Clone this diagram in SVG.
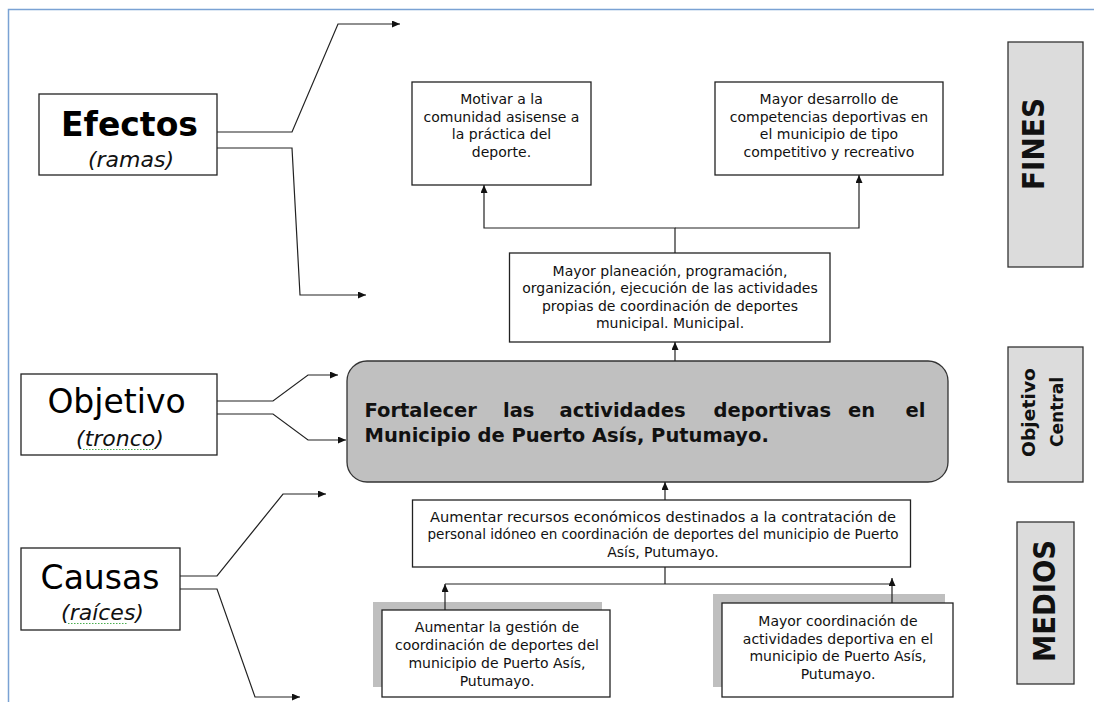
<svg xmlns="http://www.w3.org/2000/svg" width="1094" height="702" viewBox="0 0 1094 702">
<defs>
<marker id="ah" markerWidth="9" markerHeight="8" refX="8" refY="3.5" orient="auto" markerUnits="userSpaceOnUse">
<path d="M0,0 L8,3.5 L0,7 z" fill="#111"/>
</marker>
<style>
.box{fill:#fff;stroke:#222;stroke-width:1.3}
.sh{fill:#bfbfbf}
.lbl{fill:#dcdcdc;stroke:#333;stroke-width:1.3}
.t{font-family:"DejaVu Sans",Verdana,sans-serif;font-size:14px;fill:#111;text-anchor:middle}
.big{font-family:"DejaVu Sans",Verdana,sans-serif;font-size:33px;fill:#000;text-anchor:middle}
.it{font-family:"DejaVu Sans",Verdana,sans-serif;font-size:22px;font-style:italic;fill:#111;text-anchor:middle}
.rot{font-family:"DejaVu Sans",Verdana,sans-serif;font-weight:bold;fill:#111;text-anchor:middle}
.cen{font-family:"DejaVu Sans",Verdana,sans-serif;font-size:19.5px;font-weight:bold;fill:#111}
.c{fill:none;stroke:#222;stroke-width:1.2}
.ca{fill:none;stroke:#222;stroke-width:1.2;marker-end:url(#ah)}
.sp{stroke:#4caf50;stroke-width:1.2;stroke-dasharray:1.5 1.5}
</style>
</defs>
<rect width="1094" height="702" fill="#fff"/>
<path d="M8.5,702 V9.5 H1094" fill="none" stroke="#7aa2d4" stroke-width="1.5"/>

<g id="efectos">
<rect class="box" x="39" y="94" width="178" height="81"/>
<text class="big" x="129.5" y="136" font-weight="bold">Efectos</text>
<text class="it" x="131" y="167">(ramas)</text>
</g>
<g id="objetivo">
<rect class="box" x="21" y="374" width="196" height="81"/>
<text class="big" x="116.5" y="413">Objetivo</text>
<text class="it" x="120" y="446">(tronco)</text>
<line class="sp" x1="83" y1="449.5" x2="154" y2="449.5"/>
</g>
<g id="causas">
<rect class="box" x="21" y="548" width="159" height="82"/>
<text class="big" x="100" y="589" font-size="32">Causas</text>
<text class="it" x="102.5" y="620">(raíces)</text>
<line class="sp" x1="68" y1="623.5" x2="127" y2="623.5"/>
</g>

<g id="fin1">
<rect class="box" x="412" y="82" width="179" height="103"/>
<text class="t" x="501.5" y="104">Motivar a la</text>
<text class="t" x="501.5" y="122">comunidad asisense a</text>
<text class="t" x="501.5" y="139">la práctica del</text>
<text class="t" x="501.5" y="157">deporte.</text>
</g>
<g id="fin2">
<rect class="box" x="715" y="82" width="228" height="93"/>
<text class="t" x="829" y="104">Mayor desarrollo de</text>
<text class="t" x="829" y="122">competencias deportivas en</text>
<text class="t" x="829" y="139">el municipio de tipo</text>
<text class="t" x="829" y="157">competitivo y recreativo</text>
</g>
<g id="fin3">
<rect class="box" x="509.5" y="253" width="320.5" height="89"/>
<text class="t" x="670" y="276">Mayor planeación, programación,</text>
<text class="t" x="670" y="293">organización, ejecución de las actividades</text>
<text class="t" x="670" y="311">propias de coordinación de deportes</text>
<text class="t" x="670" y="328">municipal. Municipal.</text>
</g>

<g id="central">
<rect x="347" y="361" width="601" height="121" rx="20" ry="20" fill="#c0c0c0" stroke="#333" stroke-width="1.3"/>
<text class="cen" y="417"><tspan x="364.5">Fortalecer</tspan><tspan x="503">las</tspan><tspan x="559.5">actividades</tspan><tspan x="713.5">deportivas</tspan><tspan x="848">en</tspan><tspan x="905.5">el</tspan></text>
<text class="cen" x="364.5" y="442">Municipio de Puerto Asís, Putumayo.</text>
</g>

<g id="medio1">
<rect class="box" x="412.5" y="500" width="498" height="67"/>
<text class="t" x="663" y="522" textLength="466" lengthAdjust="spacingAndGlyphs">Aumentar recursos económicos destinados a la contratación de</text>
<text class="t" x="663" y="539" textLength="471" lengthAdjust="spacingAndGlyphs">personal idóneo en coordinación de deportes del municipio de Puerto</text>
<text class="t" x="663" y="557">Asís, Putumayo.</text>
</g>
<g id="medio2">
<rect class="sh" x="373" y="602" width="229" height="85"/>
<rect class="box" x="382" y="610" width="228" height="87"/>
<text class="t" x="497" y="632">Aumentar la gestión de</text>
<text class="t" x="497" y="650">coordinación de deportes del</text>
<text class="t" x="497" y="668">municipio de Puerto Asís,</text>
<text class="t" x="497" y="686">Putumayo.</text>
</g>
<g id="medio3">
<rect class="sh" x="713" y="594" width="232" height="93"/>
<rect class="box" x="722" y="603" width="231" height="94"/>
<text class="t" x="838" y="626">Mayor coordinación de</text>
<text class="t" x="838" y="644">actividades deportiva en el</text>
<text class="t" x="838" y="661">municipio de Puerto Asís,</text>
<text class="t" x="838" y="679">Putumayo.</text>
</g>

<g id="fines">
<rect class="lbl" x="1008" y="42" width="75" height="225"/>
<text class="rot" font-size="30" textLength="92" lengthAdjust="spacingAndGlyphs" transform="translate(1044,144) rotate(-90)">FINES</text>
</g>
<g id="objcentral">
<rect class="lbl" x="1008" y="347" width="75" height="135"/>
<text class="rot" font-size="18" textLength="89" lengthAdjust="spacingAndGlyphs" transform="translate(1035,412.5) rotate(-90)">Objetivo</text>
<text class="rot" font-size="18" textLength="70" lengthAdjust="spacingAndGlyphs" transform="translate(1063,412) rotate(-90)">Central</text>
</g>
<g id="medios">
<rect class="lbl" x="1017" y="522" width="57" height="162"/>
<text class="rot" font-size="30" textLength="122" lengthAdjust="spacingAndGlyphs" transform="translate(1055,601) rotate(-90)">MEDIOS</text>
</g>

<g id="connectors">
<path class="ca" d="M217,132 H292 L338,24 H400"/>
<path class="ca" d="M217,148 H292 L300,295 H366"/>
<path class="ca" d="M217,401 H273 L308,375 H338"/>
<path class="ca" d="M217,414 H273 L308,440 H346"/>
<path class="ca" d="M180,576 H217 L283,494 H326"/>
<path class="ca" d="M180,589 H217 L255,697 H300"/>
<path class="ca" d="M675,253 V228 H484 V185"/>
<path class="ca" d="M675,228 H859 V175"/>
<path class="ca" d="M675,361 V342"/>
<path class="ca" d="M665,500 V482"/>
<path class="c" d="M665,567 V584 M445,584 H892"/>
<path class="ca" d="M445,610 V584"/>
<path class="ca" d="M892,603 V578"/>
</g>
</svg>
